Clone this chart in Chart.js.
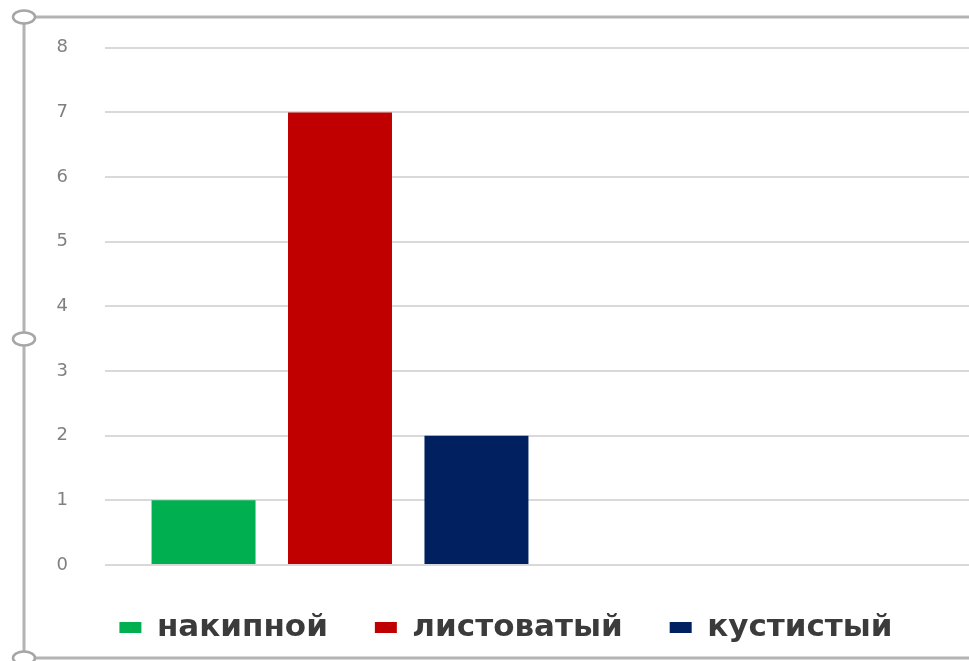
<!DOCTYPE html>
<html>
<head>
<meta charset="utf-8">
<script src="https://cdn.jsdelivr.net/npm/chart.js@4/dist/chart.umd.min.js"></script>
<style>
  html, body { margin: 0; padding: 0; background: #ffffff; width: 969px; height: 661px; overflow: hidden; }
  #wrap { position: absolute; left: -33px; top: 0; width: 1078px; height: 661px; }
</style>
</head>
<body>
<div id="wrap"><canvas id="c" width="1078" height="661"></canvas></div>
<script>
// ---- data ----
const categories = ['', ''];
const seriesNames = ['накипной', 'листоватый', 'кустистый'];
const seriesValues = [1, 7, 2];
const seriesColors = ['#00B050', '#C00000', '#002060'];
const yMin = 0;
const yMax = 8;
const yStep = 1;

// each series has a value only in the first category
const datasets = seriesNames.map((name, i) => ({
  label: name,
  data: categories.map((c, k) => (k === 0 ? seriesValues[i] : null)),
  backgroundColor: seriesColors[i],
  borderWidth: 0,
  categoryPercentage: 0.871,
  barPercentage: 0.762
}));

// selection frame decoration (like the PowerPoint chart frame)
const framePlugin = {
  id: 'frame',
  afterDraw(chart) {
    const ctx = chart.ctx;
    const fx = 57, top = 17, bottom = 658, mid = 339;
    ctx.save();
    ctx.strokeStyle = '#b3b3b3';
    ctx.lineWidth = 3;
    ctx.beginPath();
    ctx.moveTo(fx, top); ctx.lineTo(chart.width, top);
    ctx.moveTo(fx, top); ctx.lineTo(fx, bottom);
    ctx.moveTo(fx, bottom); ctx.lineTo(chart.width, bottom);
    ctx.stroke();
    ctx.lineWidth = 2.5;
    ctx.strokeStyle = '#a6a6a6';
    ctx.fillStyle = '#ffffff';
    [top, mid, bottom].forEach(y => {
      ctx.beginPath();
      ctx.ellipse(fx, y, 11, 6.5, 0, 0, Math.PI * 2);
      ctx.fill();
      ctx.stroke();
    });
    ctx.restore();
  }
};

new Chart(document.getElementById('c'), {
  type: 'bar',
  data: { labels: categories, datasets: datasets },
  options: {
    responsive: false,
    animation: false,
    layout: { padding: { top: 47, bottom: 8, left: 0, right: 0 } },
    plugins: {
      tooltip: { enabled: false },
      legend: {
        position: 'bottom',
        labels: {
          boxWidth: 22,
          boxHeight: 11,
          padding: 47,
          color: '#3b3b3b',
          font: { family: 'DejaVu Sans', size: 31, weight: 'bold' }
        }
      }
    },
    scales: {
      x: {
        display: false
      },
      y: {
        min: yMin,
        max: yMax,
        ticks: {
          stepSize: yStep,
          padding: 37,
          color: '#808080',
          font: { family: 'DejaVu Sans', size: 18 }
        },
        grid: { color: '#d9d9d9', lineWidth: 2, drawTicks: false },
        border: { display: false },
        afterFit(scale) { scale.width = 138; }
      }
    }
  },
  plugins: [framePlugin]
});
</script>
</body>
</html>
